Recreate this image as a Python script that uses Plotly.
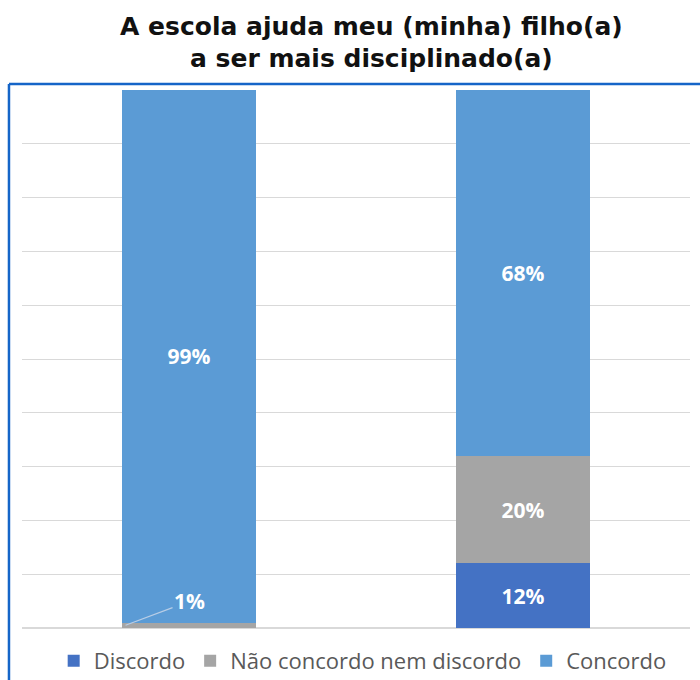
import plotly.graph_objects as go

# Survey responses per group (percent)
groups = ["Grupo A", "Grupo B"]
series_names = ["Discordo", "Não concordo nem discordo", "Concordo"]
discordo = [0, 12]
neutro = [1, 20]
concordo = [99, 68]
colors = ["#4472C4", "#A5A5A5", "#5B9BD5"]
title_lines = ["A escola ajuda meu (minha) filho(a)", "a ser mais disciplinado(a)"]

values = [discordo, neutro, concordo]
label_font = dict(family="'Open Sans', sans-serif", size=21, color="white", weight="bold")

fig = go.Figure()
for name, vals, col in zip(series_names, values, colors):
    # small segments get an external callout instead of an inside label
    texts = [f"{v}%" if v >= 5 else "" for v in vals]
    fig.add_trace(go.Bar(
        x=groups, y=vals, name=name, marker=dict(color=col, line=dict(width=0)),
        text=texts, textposition="inside", insidetextanchor="middle",
        textfont=label_font, width=0.4, hoverinfo="skip",
    ))

# callout for the thin neutral slice of the first bar
fig.add_annotation(
    x=-0.19, xref="x", y=neutro[0] / 2, yref="y",
    text=f"{neutro[0]}%", showarrow=True, arrowhead=0, arrowwidth=1.2,
    arrowcolor="#B8CDE6", ax=64, ay=-24, font=label_font,
)

# two-line title placed above the frame
for txt, ypos in zip(title_lines, [1.118, 1.058]):
    fig.add_annotation(
        x=0.523, xref="paper", y=ypos, yref="paper", text=txt, showarrow=False,
        xanchor="center", yanchor="middle",
        font=dict(family="'DejaVu Sans', sans-serif", size=25, color="#111111", weight="bold"),
    )

# frame around the chart area
border = "#1565C8"
fig.add_shape(type="line", xref="paper", yref="paper", x0=-0.0195, x1=1.05,
              y0=1.011, y1=1.011, line=dict(color=border, width=2.5))
fig.add_shape(type="line", xref="paper", yref="paper", x0=-0.0195, x1=-0.0195,
              y0=1.011, y1=-0.2, line=dict(color=border, width=2.5))

fig.update_layout(
    width=700, height=680,
    barmode="stack",
    margin=dict(l=22, r=10, t=90, b=52, autoexpand=False),
    paper_bgcolor="white", plot_bgcolor="white",
    showlegend=True,
    legend=dict(orientation="h", x=0.51, xanchor="center", y=-0.022, yanchor="top",
                font=dict(family="'Open Sans', sans-serif", size=22, color="#595959"),
                itemwidth=30, traceorder="normal", tracegroupgap=0,
                itemsizing="constant"),
    xaxis=dict(range=[-0.5, 1.5], showticklabels=False, showgrid=False, zeroline=False,
               showline=False, fixedrange=True),
    yaxis=dict(range=[0, 100], dtick=10, showticklabels=False, showgrid=True,
               gridcolor="#D9D9D9", gridwidth=1, zeroline=True, zerolinecolor="#D9D9D9",
               showline=False, fixedrange=True),
)

fig.write_html("out.html")
